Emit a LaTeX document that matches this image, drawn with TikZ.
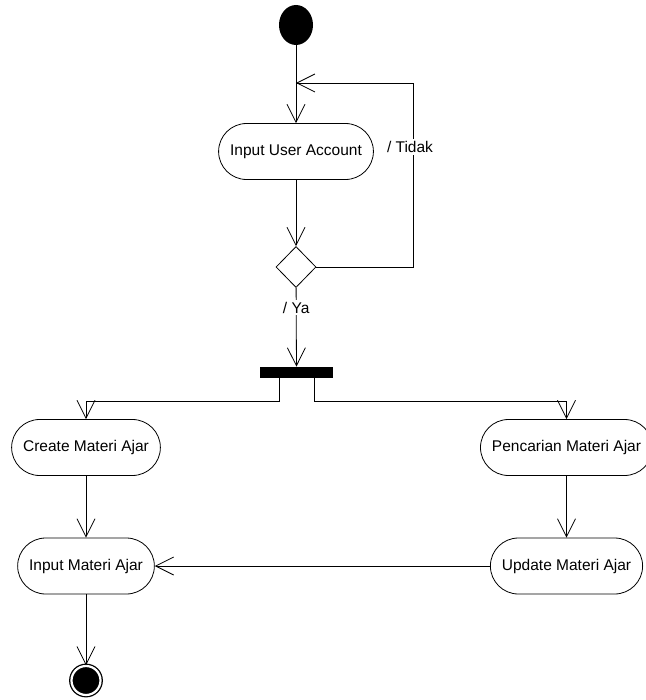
\documentclass[tikz,border=0pt]{standalone}
\usepackage{fontspec}
\setmainfont{Liberation Sans}
\usetikzlibrary{arrows.meta,shapes.geometric}
\tikzset{
	activity/.style={draw, rectangle, rounded corners=28pt, minimum height=56pt,
		inner xsep=11.5pt, font=\fontsize{15.5pt}{18pt}\selectfont},
	flow/.style={-{Straight Barb[length=18pt,width=18pt]}},
	guard/.style={fill=white, inner sep=2pt, font=\fontsize{15.5pt}{18pt}\selectfont},
}
\begin{document}
\begin{tikzpicture}[x=1pt, y=-1pt, line width=0.8pt]
				\useasboundingbox (0,0) rectangle (645,700);
				% start, login and check
				\node[ellipse, fill=black, minimum width=34pt, minimum height=40pt, inner sep=0pt] (start) at (296,25) {};
				\node[activity] (account) at (296,151.5) {Input User Account};
				\node[diamond, draw, fill=white, minimum width=40pt, minimum height=41pt, inner sep=0pt] (check) at (296,267) {};
				\coordinate (loopcorner) at (413,83);
				\coordinate (loopback) at (296,83);
				\draw[flow] (start) -- (account);
				\draw[flow] (account) -- (check);
				\draw[flow] (check.east) -| (loopcorner) -- (loopback);
				\node[guard] (tidak) at (410,147) {/ Tidak};
				% fork
				\node[rectangle, fill=black, minimum width=73pt, minimum height=11pt, inner sep=0pt] (fork) at (296.5,372.5) {};
				\draw[flow] (check) -- node[guard, pos=0.25] (ya) {/ Ya} (fork);
				% left and right branch
				\node[activity] (create) at (86,447.5) {Create Materi Ajar};
				\node[activity] (cari) at (566.5,447.5) {Pencarian Materi Ajar};
				\node[activity] (inmateri) at (86,566) {Input Materi Ajar};
				\node[activity] (update) at (566.5,566) {Update Materi Ajar};
				\draw[flow] ([xshift=-17.5pt]fork.south) -- ++(0,23) -| (create.north);
				\draw[flow] ([xshift=17.5pt]fork.south) -- ++(0,23) -| (cari.north);
				\draw[flow] (create) -- (inmateri);
				\draw[flow] (cari) -- (update);
				\draw[flow] (update) -- (inmateri);
				% end
				\node[circle, draw, fill=black, line width=1.3pt, double=white, double distance=2.2pt,
					minimum size=29pt, inner sep=0pt] (finish) at (86,680.5) {};
				\draw[flow] (inmateri) -- (finish);
			\end{tikzpicture}
\end{document}
